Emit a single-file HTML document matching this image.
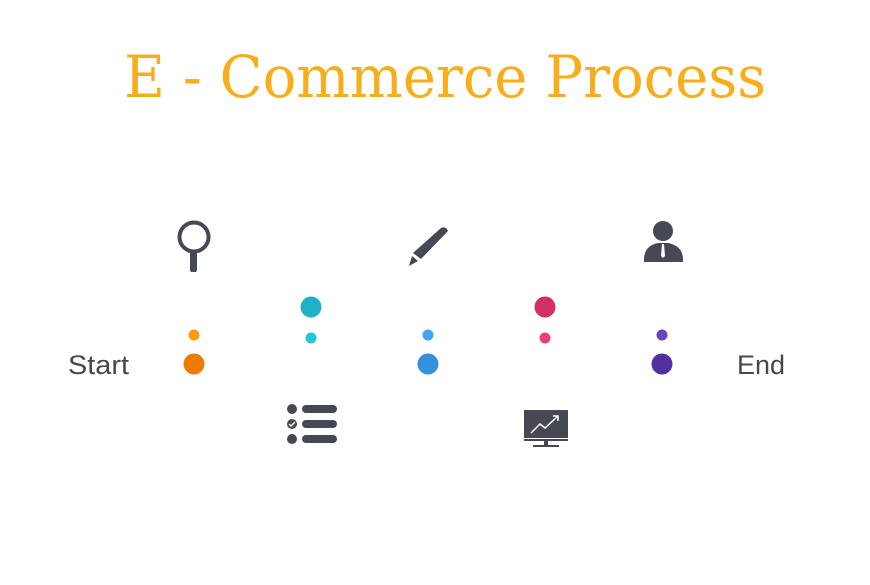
<!DOCTYPE html>
<html><head><style>
body{margin:0;width:870px;height:580px;background:#fff;overflow:hidden}
</style></head><body>
<svg width="870" height="580" xmlns="http://www.w3.org/2000/svg">
<text x="124" y="97" textLength="642" lengthAdjust="spacingAndGlyphs" font-family="DejaVu Serif, serif" font-size="58" fill="#F7AE1A">E - Commerce Process</text>
<text x="68" y="374" textLength="61" lengthAdjust="spacingAndGlyphs" font-family="Liberation Sans, sans-serif" font-size="27" fill="#454651">Start</text>
<text x="737" y="374" textLength="48" lengthAdjust="spacingAndGlyphs" font-family="Liberation Sans, sans-serif" font-size="27" fill="#454651">End</text>
<g fill="#464853" stroke="none">
<circle cx="194" cy="237" r="14.5" fill="none" stroke="#464853" stroke-width="4"/>
<rect x="190" y="252" width="7" height="20" rx="2"/>
<path d="M441 228 Q446 226 448 231 L421 259 L413 253 Z"/>
<path d="M412 256 L418 261 L409 266 Z"/>
<circle cx="663" cy="231" r="10"/>
<path d="M644 262 Q643 246 658 243 L668 243 Q684 246 683 262 Z"/>
<path d="M662 244 L664 244 L665 256 L663 258 L661 256 Z" fill="#fff"/>
<circle cx="292" cy="409" r="5"/><circle cx="292" cy="424" r="5"/><circle cx="292" cy="439" r="5"/>
<rect x="302" y="405" width="35" height="8" rx="4"/><rect x="302" y="420" width="35" height="8" rx="4"/><rect x="302" y="435" width="35" height="8" rx="4"/>
<path d="M289 424 L291 426 L295 422" stroke="#fff" stroke-width="1.5" fill="none"/>
<rect x="524" y="410" width="44" height="28"/>
<rect x="524" y="439" width="44" height="2"/>
<rect x="544" y="441" width="4" height="4"/>
<rect x="533" y="445" width="26" height="2"/>
<path d="M531 433 L540 424 L545 428 L558 416" stroke="#fff" stroke-width="1.5" fill="none"/>
<path d="M553 416 L558 416 L558 421" stroke="#fff" stroke-width="1.5" fill="none"/>
</g>
<circle cx="194" cy="335" r="5.5" fill="#FA9B07"/>
<circle cx="194" cy="364" r="10.5" fill="#EE7B00"/>
<circle cx="311" cy="307" r="10.5" fill="#20B2C4"/>
<circle cx="311" cy="338" r="5.5" fill="#24C6DB"/>
<circle cx="428" cy="335" r="5.5" fill="#42A3F0"/>
<circle cx="428" cy="364" r="10.5" fill="#3591DE"/>
<circle cx="545" cy="307" r="10.5" fill="#D22F62"/>
<circle cx="545" cy="338" r="5.5" fill="#EC3F79"/>
<circle cx="662" cy="335" r="5.5" fill="#6C40BE"/>
<circle cx="662" cy="364" r="10.5" fill="#5330A0"/>
</svg>
</body></html>
